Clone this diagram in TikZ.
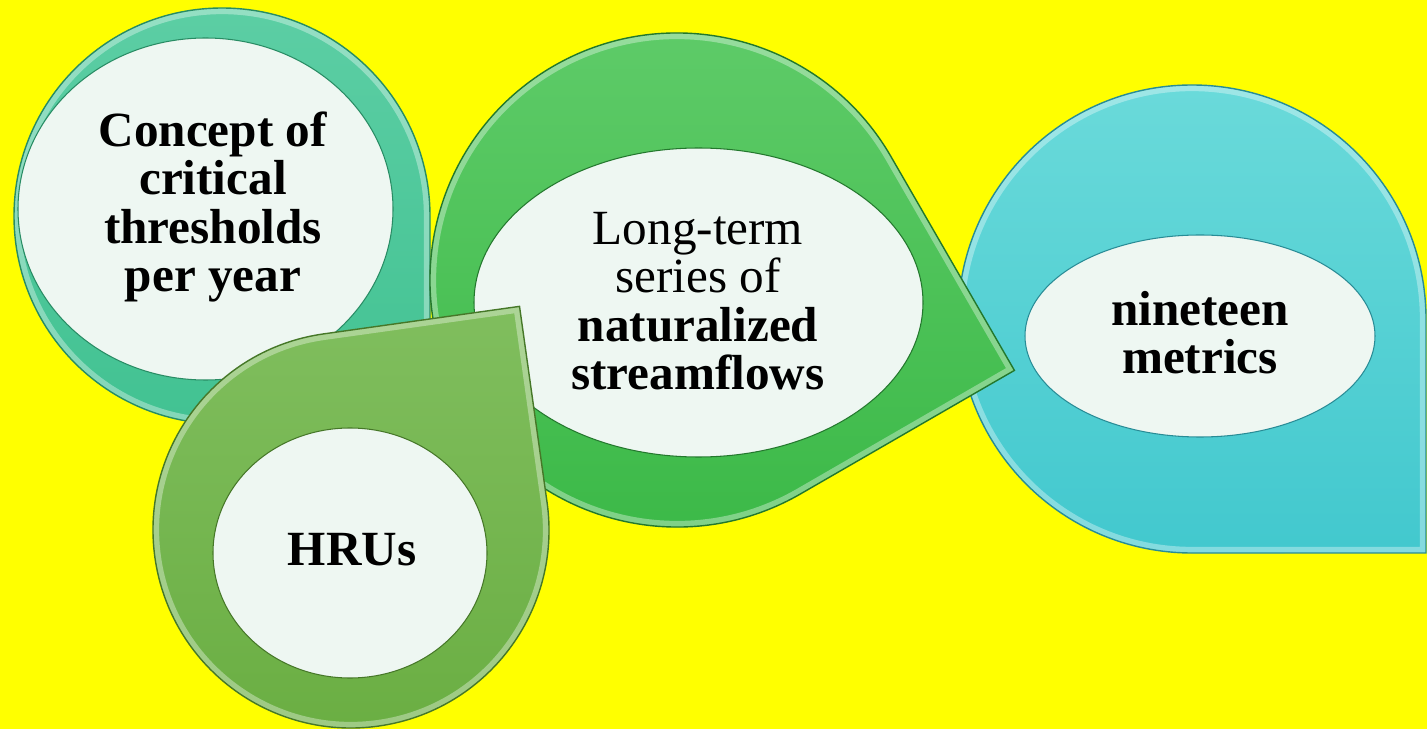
\documentclass[tikz,border=0pt]{standalone}
\usepackage{fontspec}
\setmainfont{Liberation Serif}
\usepackage{xcolor}
\usepackage{tikz}
\usetikzlibrary{calc}

\definecolor{bgyellow}{RGB}{255,255,0}
\definecolor{tealtop}{RGB}{92,206,164}
\definecolor{tealbot}{RGB}{66,194,146}
\definecolor{tealline}{RGB}{40,140,100}
\definecolor{olivetop}{RGB}{128,190,94}
\definecolor{olivebot}{RGB}{106,174,66}
\definecolor{oliveline}{RGB}{70,120,40}
\definecolor{greentop}{RGB}{96,204,106}
\definecolor{greenbot}{RGB}{58,184,70}
\definecolor{greenline}{RGB}{35,120,45}
\definecolor{cyantop}{RGB}{106,218,218}
\definecolor{cyanbot}{RGB}{66,200,206}
\definecolor{cyanline}{RGB}{40,140,150}
\definecolor{innerfill}{RGB}{238,247,242}

% teardrop outline: centre x, centre y, radius, direction of the tip
\newcommand{\droppath}[4]{(#1,#2) ++({#4+45}:#3) arc[start angle={#4+45}, end angle={#4+315}, radius=#3] -- ([shift={(#4:{1.4142*#3})}]#1,#2) -- cycle}
% shaded teardrop with a light rim just inside its edge
\newcommand{\teardrop}[7]{%
	\shade[top color=#5, bottom color=#6] \droppath{#1}{#2}{#3}{#4};
	\begin{scope}
		\clip \droppath{#1}{#2}{#3}{#4};
		\draw[white, opacity=0.35, line width=7pt] \droppath{#1}{#2}{#3}{#4};
	\end{scope}
	\draw[#7, line width=0.8pt] \droppath{#1}{#2}{#3}{#4};
}

\begin{document}
\begin{tikzpicture}[
			x=0.02cm, y=-0.02cm,
			hole/.style={draw=#1, line width=0.6pt, fill=innerfill},
			txt/.style={align=center, text=black, font=\fontsize{28}{27.5}\selectfont}
			]
			% Background
			\fill[bgyellow] (0,0) rectangle (1427,729);
			\useasboundingbox (0,0) rectangle (1427,729);
			% Concept teardrop (tip hidden at bottom right)
			\teardrop{222}{216}{208}{45}{tealtop}{tealbot}{tealline}
			\draw[hole=tealline] (205.5,209) ellipse [x radius=187.5, y radius=171];
			\node[txt] (concept) at (213,207) {\textbf{Concept of}\\ \textbf{critical}\\ \textbf{thresholds}\\ \textbf{per year}};
			% Metrics teardrop
			\teardrop{1192}{319}{234}{45}{cyantop}{cyanbot}{cyanline}
			\draw[hole=cyanline] (1200,336) ellipse [x radius=175, y radius=101];
			\node[txt] (metrics) at (1200,333) {\textbf{nineteen}\\ \textbf{metrics}};
			% Streamflow teardrop
			\teardrop{677}{280}{247}{15}{greentop}{greenbot}{greenline}
			\draw[hole=greenline] (698.5,302.5) ellipse [x radius=224.5, y radius=154.5];
			\node[txt] (series) at (698,301) {Long-term\\ series of\\ \textbf{naturalized}\\ \textbf{streamflows}};
			% HRUs teardrop
			\teardrop{351}{530}{198}{-53}{olivetop}{olivebot}{oliveline}
			\draw[hole=oliveline] (350,553) ellipse [x radius=137, y radius=125];
			\node[txt] (hrus) at (352,550) {\textbf{HRUs}};
		\end{tikzpicture}
\end{document}
